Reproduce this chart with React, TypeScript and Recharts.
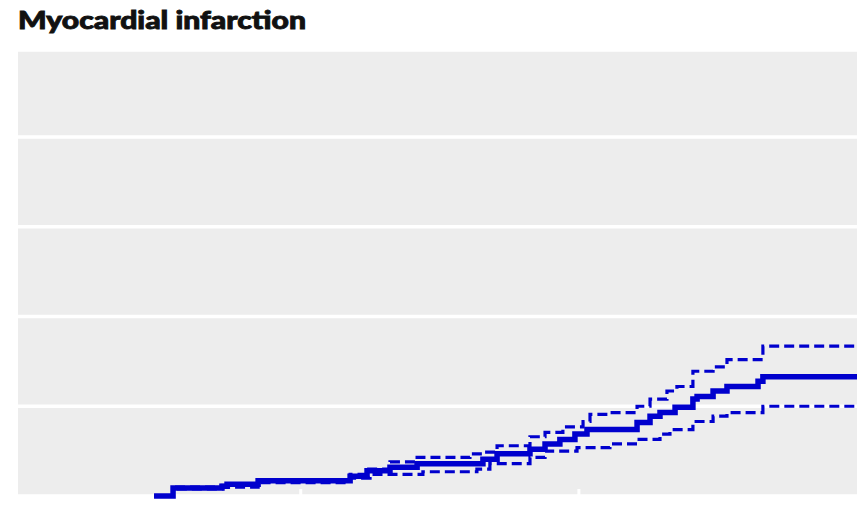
import React from 'react';
import { LineChart, Line, XAxis, YAxis, CartesianGrid } from 'recharts';

const TITLE = 'Myocardial infarction';

// time in months since start
const estMonths = [5.67, 6.49, 8.6, 8.82, 10.16, 14.13, 14.86, 15.85, 17.02, 19.86, 20.47, 21.89, 22.54, 23.18, 23.83, 24.35, 26.51, 27.07, 27.5, 28.15, 28.92, 29.1, 29.79, 30.39, 31.73, 31.94, 36];
const estValues = [0, 0.09, 0.11, 0.13, 0.17, 0.22, 0.28, 0.32, 0.36, 0.41, 0.47, 0.52, 0.58, 0.63, 0.69, 0.74, 0.82, 0.89, 0.93, 0.99, 1.08, 1.11, 1.17, 1.22, 1.28, 1.33, 1.33];

const upperMonths = [5.67, 6.49, 8.6, 10.16, 14.13, 14.86, 15.85, 17.02, 19.3, 19.86, 20.47, 21.89, 22.54, 23.31, 24.18, 24.48, 25.34, 26.51, 27.07, 27.8, 28.23, 28.92, 29.79, 30.39, 31.94, 36];
const upperValues = [0, 0.1, 0.12, 0.18, 0.24, 0.3, 0.38, 0.43, 0.47, 0.49, 0.56, 0.66, 0.71, 0.77, 0.83, 0.91, 0.93, 1.0, 1.08, 1.17, 1.22, 1.39, 1.44, 1.52, 1.67, 1.67];

const lowerMonths = [5.67, 6.49, 8.6, 10.16, 14.13, 14.99, 17.27, 19.6, 20.16, 21.89, 22.54, 23.92, 25.34, 26.51, 27.5, 27.93, 28.92, 29.79, 30.39, 31.94, 36];
const lowerValues = [0, 0.08, 0.1, 0.15, 0.2, 0.24, 0.27, 0.3, 0.36, 0.43, 0.5, 0.54, 0.58, 0.63, 0.69, 0.74, 0.83, 0.89, 0.93, 1.0, 1.0];

const xTicks = [12, 24];
const yTicks = [1, 2, 3, 4];

const toRows = (ts: number[], vs: number[]) => ts.map((t, i) => ({ t, v: vs[i] }));
const estData = toRows(estMonths, estValues);
const upperData = toRows(upperMonths, upperValues);
const lowerData = toRows(lowerMonths, lowerValues);

const BLUE = '#0000cd';

const InnerTick = (props: any) => {
  const { x, y } = props;
  return <rect x={x - 1.5} y={y - 7} width={3} height={7} fill="#ffffff" />;
};

export default function App() {
  return (
    <div style={{ position: 'fixed', left: 0, top: 0, width: 862, height: 512, background: '#fff' }}>
      <svg width={862} height={44} style={{ position: 'absolute', left: 0, top: 0 }}>
        <text
          x={18}
          y={29}
          fontFamily="Lato, 'Noto Sans', sans-serif"
          fontWeight={900}
          fontSize={25}
          fill="#111"
          stroke="#111"
          strokeWidth={0.9}
          textLength={288}
          lengthAdjust="spacingAndGlyphs"
        >
          {TITLE}
        </text>
      </svg>
      <div style={{ position: 'absolute', left: 0, top: 0 }}>
        <LineChart width={862} height={512} margin={{ top: 50, left: 18, right: 5, bottom: 15 }}>
          <CartesianGrid fill="#ededed" stroke="#ffffff" strokeWidth={3.5} vertical={false} />
          <XAxis
            type="number"
            dataKey="t"
            domain={[-0.2, 36]}
            ticks={xTicks}
            tick={InnerTick}
            tickSize={0}
            tickMargin={0}
            axisLine={false}
            tickLine={false}
            height={1}
            allowDuplicatedCategory={false}
          />
          <YAxis type="number" domain={[0, 4.97]} ticks={yTicks} hide />
          <Line data={upperData} dataKey="v" type="stepAfter" stroke={BLUE} strokeWidth={3.2} strokeDasharray="10 5" dot={false} activeDot={false} isAnimationActive={false} />
          <Line data={lowerData} dataKey="v" type="stepAfter" stroke={BLUE} strokeWidth={3.2} strokeDasharray="10 5" dot={false} activeDot={false} isAnimationActive={false} />
          <Line data={estData} dataKey="v" type="stepAfter" stroke={BLUE} strokeWidth={5.5} dot={false} activeDot={false} isAnimationActive={false} />
        </LineChart>
      </div>
    </div>
  );
}
